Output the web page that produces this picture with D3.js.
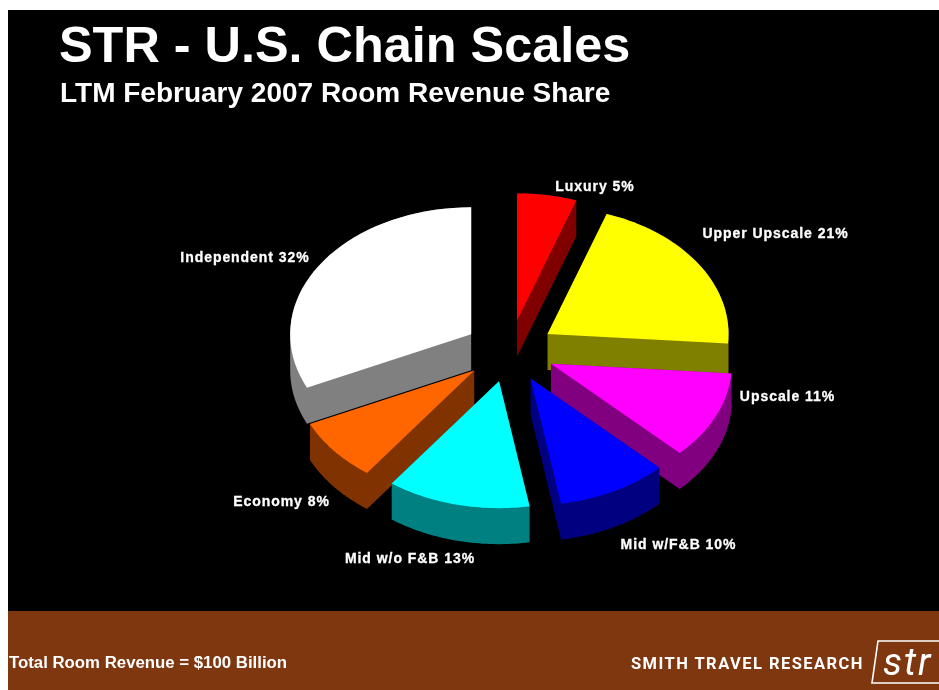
<!DOCTYPE html>
<html><head><meta charset="utf-8">
<script src="https://cdn.jsdelivr.net/npm/d3@7"></script>
<style>html,body{margin:0;padding:0;background:#fff}svg{display:block}</style>
</head><body><svg id="c" width="939" height="690"></svg>
<script>
const categories = ["Luxury","Upper Upscale","Upscale","Mid w/F&B","Mid w/o F&B","Economy","Independent"];
const labelShares = [5,21,11,10,13,8,32];
const drawnShares = [5.3,20.9,11.2,9.9,12.8,8,31.9];
const topColors = ["#ff0000","#ffff00","#ff00ff","#0000ff","#00ffff","#ff6600","#ffffff"];
const sideColors = ["#800000","#808000","#800080","#000080","#008080","#803300","#808080"];
const paintOrder = [6,0,1,2,3,5,4];
const labelAnchors = [[595,186],[775.5,233],[787.5,396],[678.5,544],[410,558],[281.5,501],[245,257]];

const svg = d3.select("#c");
const defs = svg.append("defs");
defs.append("filter").attr("id","soft").attr("filterUnits","userSpaceOnUse")
  .attr("x",0).attr("y",0).attr("width",939).attr("height",690)
  .append("feGaussianBlur").attr("stdDeviation",0.45);
svg.append("rect").attr("x",8).attr("y",10).attr("width",931).attr("height",601).attr("fill","#000");
svg.append("rect").attr("x",8).attr("y",611).attr("width",931).attr("height",79).attr("fill","#7f3710");
const g = svg.append("g").attr("filter","url(#soft)");

const F = "'Liberation Sans',Arial,sans-serif";
g.append("text").attr("x",59).attr("y",62).attr("font-family",F).attr("font-weight",700).attr("font-size",50.4).attr("fill","#fff").text("STR - U.S. Chain Scales");
g.append("text").attr("x",60).attr("y",102).attr("font-family",F).attr("font-weight",700).attr("font-size",28).attr("fill","#fff").text("LTM February 2007 Room Revenue Share");

const cx=509.5, cy=351, rx=181, ry=127, ex=45.5, ey=31, depth=36;
const pie = d3.pie().sort(null)(drawnShares);
const xs = d3.scaleLinear().domain([-1,1]).range([-rx,rx]);
const ys = d3.scaleLinear().domain([-1,1]).range([ry,-ry]);
const line = d3.line();

paintOrder.forEach(i=>{
  const s = pie[i], mid=(s.startAngle+s.endAngle)/2;
  const ax = cx+ex*Math.sin(mid), ay = cy-ey*Math.cos(mid);
  const angles = d3.range(0,41).map(k=>s.startAngle+(s.endAngle-s.startAngle)*k/40);
  const topPts = [[ax,ay]].concat(angles.map(a=>[ax+xs(Math.sin(a)),ay+ys(Math.cos(a))]));
  const hull = d3.polygonHull(topPts.concat(topPts.map(p=>[p[0],p[1]+depth])));
  g.append("path").attr("d",line(hull)+"Z").attr("fill",sideColors[i]);
  g.append("path").attr("d",line(topPts)+"Z").attr("fill",topColors[i]);
});

categories.forEach((c,i)=>{
  g.append("text").attr("x",labelAnchors[i][0]).attr("y",labelAnchors[i][1]+4.5)
    .attr("text-anchor","middle").attr("font-family",F).attr("font-weight",700)
    .attr("font-size",14).attr("letter-spacing",0.95).attr("stroke","#fff").attr("stroke-width",0.3).attr("fill","#fff").text(c+" "+labelShares[i]+"%");
});

g.append("text").attr("x",9).attr("y",667.5).attr("font-family",F).attr("font-weight",700).attr("font-size",16.8).attr("fill","#fff").text("Total Room Revenue = $100 Billion");
g.append("text").attr("x",631).attr("y",669).attr("font-family","Roboto,sans-serif").attr("font-weight",700).attr("font-size",16.5).attr("letter-spacing",1.45).attr("fill","#fff").text("SMITH TRAVEL RESEARCH");
g.append("path").attr("d","M939 641 L878 641 L872 683 L939 683").attr("fill","none").attr("stroke","#fff").attr("stroke-width",1.6);
g.append("text").attr("x",883).attr("y",675).attr("font-family","Roboto,sans-serif").attr("font-weight",400).attr("font-size",38).attr("font-style","italic").attr("letter-spacing",2).attr("fill","#fff").text("str");
</script></body></html>
